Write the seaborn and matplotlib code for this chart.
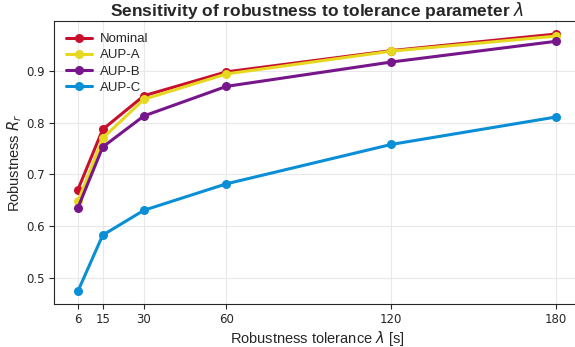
import pandas as pd
import matplotlib
matplotlib.use("Agg")
import matplotlib.pyplot as plt
import seaborn as sns

tolerance = [6, 15, 30, 60, 120, 180]
nominal = [0.671, 0.787, 0.852, 0.898, 0.939, 0.971]
aup_a = [0.648, 0.770, 0.845, 0.894, 0.938, 0.967]
aup_b = [0.636, 0.753, 0.813, 0.870, 0.917, 0.957]
aup_c = [0.475, 0.583, 0.631, 0.682, 0.758, 0.811]

series_names = ["Nominal", "AUP-A", "AUP-B", "AUP-C"]
palette = ["#c8102e", "#e6d81e", "#76168a", "#0a8fd6"]

df = pd.DataFrame({"tol": tolerance, "Nominal": nominal, "AUP-A": aup_a,
                   "AUP-B": aup_b, "AUP-C": aup_c})
long = df.melt(id_vars="tol", var_name="method", value_name="rob")

sns.set_style("ticks")
plt.rcParams["font.family"] = ["Liberation Sans", "DejaVu Sans"]

fig = plt.figure(figsize=(5.75, 3.47), dpi=100)
ax = fig.add_axes([0.094, 0.124, 0.915, 0.815])

sns.lineplot(data=long, x="tol", y="rob", hue="method", hue_order=series_names,
             palette=palette, marker="o", markersize=6.5, markeredgewidth=0,
             linewidth=2.2, ax=ax)

ax.set_xticks(tolerance)
ax.tick_params(labelsize=8.5, pad=3)
for lab in ax.get_xticklabels() + ax.get_yticklabels():
    lab.set_family("DejaVu Sans")
ax.spines["right"].set_visible(False)
ax.grid(True, color="#e8e8e8", linewidth=0.8)
ax.set_axisbelow(True)
ax.set_xlabel("Robustness tolerance $\\lambda$ [s]", fontsize=10.5, labelpad=2)
ax.set_ylabel("Robustness $R_r$", fontsize=10.5, labelpad=2)
ax.set_title("Sensitivity of robustness to tolerance parameter $\\lambda$",
             fontsize=12.5, fontweight="bold", pad=4)
ax.legend(loc="upper left", frameon=False, fontsize=9.5, labelspacing=0.3,
          handletextpad=0.6)

fig.savefig("out.png", dpi=100)
